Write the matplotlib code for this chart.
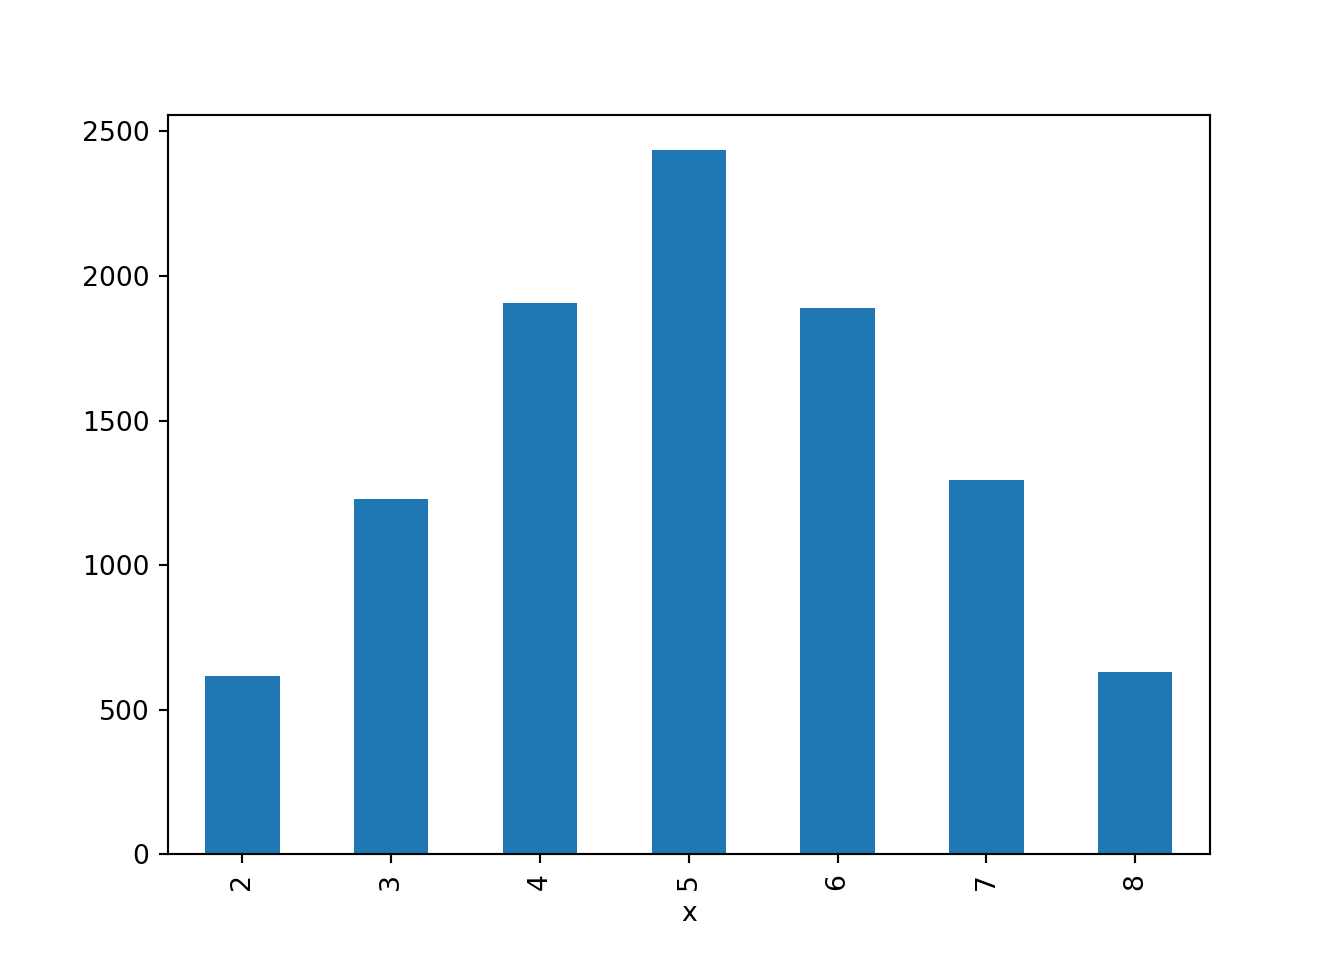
import pandas as pd
import matplotlib
matplotlib.use("Agg")
import matplotlib.pyplot as plt

sums = [2, 3, 4, 5, 6, 7, 8]
counts = [618, 1230, 1905, 2434, 1888, 1293, 629]

s = pd.Series(counts, index=pd.Index(sums, name="x"))

fig, ax = plt.subplots(figsize=(7, 5))
s.plot(kind="bar", ax=ax)
fig.savefig("out.png", dpi=192)
